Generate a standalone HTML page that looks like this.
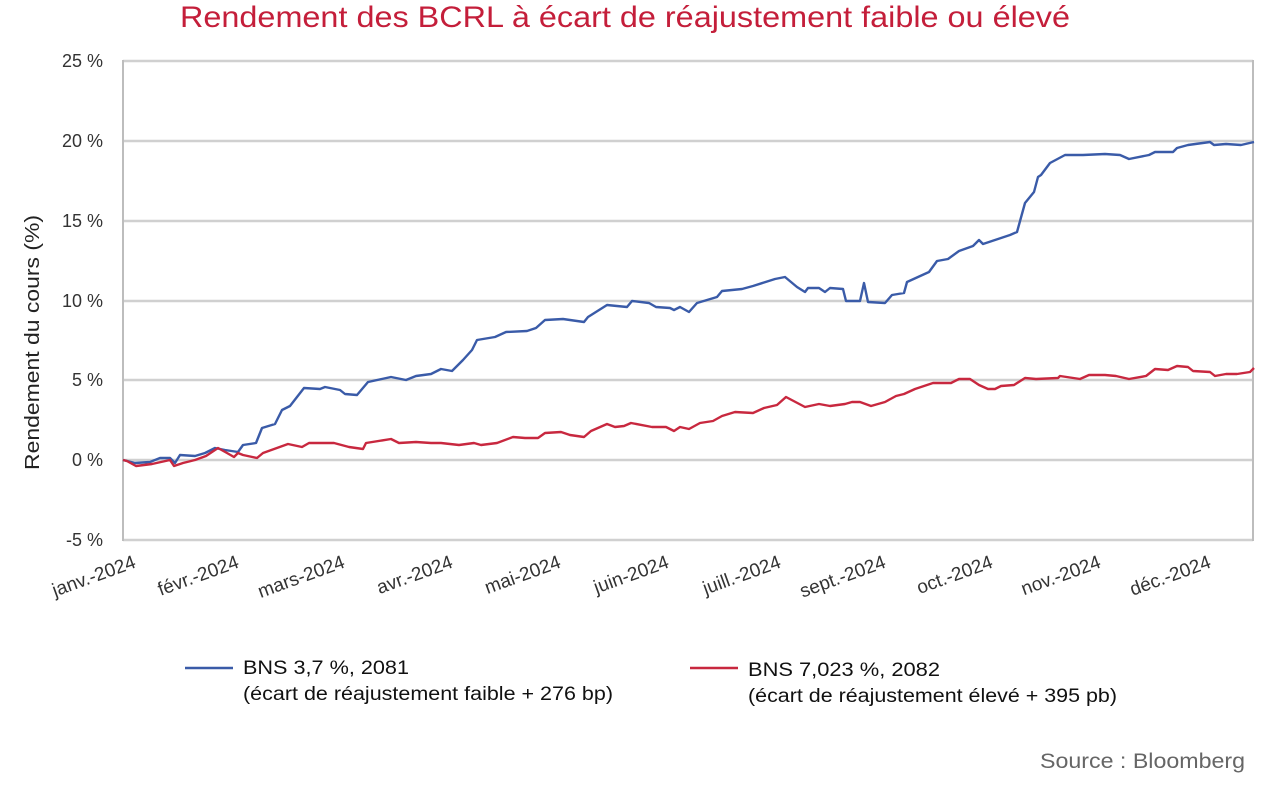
<!DOCTYPE html>
<html><head><meta charset="utf-8"><style>
body{margin:0;background:#fff;}
svg{display:block;font-family:"Liberation Sans",sans-serif;}
</style></head><body>
<svg width="1280" height="789" viewBox="0 0 1280 789">
<text x="180" y="27" textLength="890" lengthAdjust="spacingAndGlyphs" font-size="30" fill="#c41e3a">Rendement des BCRL à écart de réajustement faible ou élevé</text>
<g stroke="#d0d0d0" stroke-width="2.5">
<line x1="123" y1="61" x2="1253" y2="61"/><line x1="123" y1="141" x2="1253" y2="141"/>
<line x1="123" y1="221" x2="1253" y2="221"/><line x1="123" y1="301" x2="1253" y2="301"/>
<line x1="123" y1="380" x2="1253" y2="380"/><line x1="123" y1="460" x2="1253" y2="460"/>
<line x1="123" y1="540" x2="1253" y2="540"/>
</g>
<g stroke="#bdbdbd" stroke-width="2"><line x1="123" y1="60" x2="123" y2="541"/><line x1="1253" y1="60" x2="1253" y2="541"/></g>
<g font-size="18" fill="#333" text-anchor="end">
<text x="103" y="67">25 %</text><text x="103" y="147">20 %</text><text x="103" y="227">15 %</text>
<text x="103" y="307">10 %</text><text x="103" y="386">5 %</text><text x="103" y="466">0 %</text><text x="103" y="546">-5 %</text>
</g>
<text transform="translate(39,470) rotate(-90)" font-size="20" fill="#222" textLength="255" lengthAdjust="spacingAndGlyphs">Rendement du cours (%)</text>
<g font-size="19" fill="#333" text-anchor="end">
<text transform="translate(137,567) rotate(-20)">janv.-2024</text>
<text transform="translate(240,567) rotate(-20)">févr.-2024</text>
<text transform="translate(346,567) rotate(-20)">mars-2024</text>
<text transform="translate(454,567) rotate(-20)">avr.-2024</text>
<text transform="translate(562,567) rotate(-20)">mai-2024</text>
<text transform="translate(670,567) rotate(-20)">juin-2024</text>
<text transform="translate(782,567) rotate(-20)">juill.-2024</text>
<text transform="translate(887,567) rotate(-20)">sept.-2024</text>
<text transform="translate(994,567) rotate(-20)">oct.-2024</text>
<text transform="translate(1102,567) rotate(-20)">nov.-2024</text>
<text transform="translate(1212,567) rotate(-20)">déc.-2024</text>
</g>
<polyline fill="none" stroke="#3a5ba8" stroke-width="2.4" stroke-linejoin="round" points="123,460 135,463 150,462 160,458 170,458 175,463 180,455 195,456 205,453 215,448 225,450 238,452 243,445 256,443 262,428 275,424 282,410 290,406 304,388 320,389 325,387 340,390 345,394 357,395 368,382 391,377 406,380 416,376 431,374 441,369 452,371 463,360 472,350 477,340 495,337 506,332 527,331 536,328 545,320 563,319 584,322 588,317 607,305 627,307 632,301 649,303 656,307 670,308 674,310 680,307 689,312 697,303 717,297 722,291 742,289 753,286 775,279 785,277 797,287 805,292 808,288 819,288 825,292 830,288 843,289 846,301 860,301 864,283 868,302 885,303 892,295 904,293 907,282 929,272 937,261 948,259 959,251 973,246 979,240 983,244 992,241 1010,235 1017,232 1025,203 1034,192 1038,177 1041,175 1050,163 1065,155 1083,155 1105,154 1120,155 1129,159 1149,155 1155,152 1173,152 1177,148 1188,145 1210,142 1214,145 1226,144 1241,145 1254,142"/>
<polyline fill="none" stroke="#c8283f" stroke-width="2.4" stroke-linejoin="round" points="123,460 127,461 136,466 152,464 170,460 174,466 183,463 195,460 206,456 218,448 227,453 234,457 238,453 243,455 257,458 263,453 288,444 302,447 309,443 334,443 349,447 363,449 366,443 391,439 399,443 416,442 431,443 441,443 459,445 474,443 481,445 497,443 513,437 525,438 538,438 545,433 561,432 570,435 584,437 591,431 607,424 615,427 624,426 631,423 652,427 666,427 674,431 680,427 689,429 700,423 713,421 722,416 735,412 753,413 764,408 777,405 786,397 805,407 819,404 830,406 845,404 852,402 860,402 871,406 885,402 896,396 904,394 915,389 933,383 951,383 959,379 970,379 979,385 988,389 995,389 1001,386 1014,385 1025,378 1036,379 1058,378 1060,376 1080,379 1089,375 1105,375 1116,376 1129,379 1146,376 1155,369 1168,370 1177,366 1188,367 1193,371 1210,372 1215,376 1226,374 1237,374 1250,372 1254,368"/>
<line x1="185" y1="668" x2="233" y2="668" stroke="#3a5ba8" stroke-width="2.4"/>
<line x1="690" y1="668" x2="738" y2="668" stroke="#c8283f" stroke-width="2.4"/>
<g font-size="19" fill="#111">
<text x="243" y="674" textLength="166" lengthAdjust="spacingAndGlyphs">BNS 3,7 %, 2081</text>
<text x="243" y="700" textLength="370" lengthAdjust="spacingAndGlyphs">(écart de réajustement faible + 276 bp)</text>
<text x="748" y="676" textLength="192" lengthAdjust="spacingAndGlyphs">BNS 7,023 %, 2082</text>
<text x="748" y="702" textLength="369" lengthAdjust="spacingAndGlyphs">(écart de réajustement élevé + 395 pb)</text>
</g>
<text x="1040" y="768" textLength="205" lengthAdjust="spacingAndGlyphs" font-size="21" fill="#666">Source : Bloomberg</text>
</svg>
</body></html>
